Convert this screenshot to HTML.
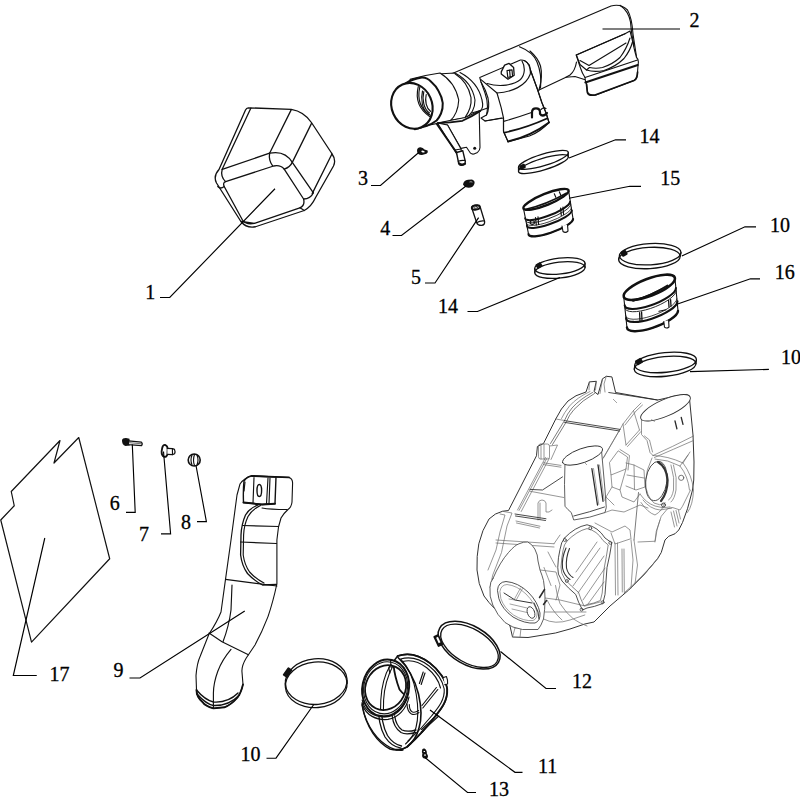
<!DOCTYPE html>
<html><head><meta charset="utf-8"><style>
html,body{margin:0;padding:0;background:#fff;width:800px;height:800px;overflow:hidden}
svg{display:block}
.t{font-family:"Liberation Serif",serif;font-size:20px;fill:#000;stroke:#000;stroke-width:0.3}
.ld{fill:none;stroke:#000;stroke-width:1.15}
.k{fill:none;stroke:#111;stroke-width:1.15;stroke-linejoin:round;stroke-linecap:round}
.kw{fill:#fff;stroke:#111;stroke-width:1.1;stroke-linejoin:round;stroke-linecap:round}
.g{fill:none;stroke:#777;stroke-width:0.7;stroke-linejoin:round;stroke-linecap:round}
.gw{fill:#fff;stroke:#666;stroke-width:0.8;stroke-linejoin:round}
#p1 .k,#p1 .kw{stroke-width:1.3}
</style></head><body>
<svg width="800" height="800" viewBox="0 0 800 800">
<rect width="800" height="800" fill="#fff"/>
<g id="parts">
<g id="p1" style="stroke-width:1.25">
<path class="kw" d="M248.2,107.8 L291.3,109.4 Q304,111.5 311.6,122.75 L331.5,153 Q336.5,160 333.5,166 L315.6,197.5 Q311.5,206.5 304.25,210.5 L255.5,226.75 Q246.5,228.5 240.9,221.5 L216.5,183 Q213,176 219,169.5 L245.5,110 Q246.5,107.8 248.2,107.8 Z"/>
<path class="k" d="M250.8,108.2 L222.2,169.3"/>
<path class="k" d="M291.3,109.6 L269.6,153.2"/>
<path class="k" d="M311.4,123.6 L292.3,162.4"/>
<path class="k" d="M331.8,154.2 L312.2,193.6"/>
<path class="k" d="M222.2,169.3 L269.6,153.2 Q285,150 292.3,162.4 L313.4,192.8"/>
<path class="k" d="M269.6,153.2 Q268.5,160.5 272.5,165.6"/>
<path class="k" d="M292.3,162.4 Q290,167.2 284.2,169.2"/>
<path class="k" d="M225.6,181.6 L273.6,166 Q280.5,164.6 284.2,169.2 L303.6,199 Q305.2,205.8 299.8,207.8 L254.5,223.3 Q246.5,225 242.6,220.3 L224.2,186.5 Q222.6,182.6 225.6,181.6 Z"/>
<path class="k" d="M222.2,169.3 Q220.2,176.5 225.6,181.6"/>
<path class="k" d="M217.8,186.5 Q220.5,189.5 224.2,186.5"/>
<path class="k" d="M313.4,192.8 Q310.5,199 303.6,199"/>
<path class="k" d="M299.8,207.8 Q302,209 304.25,210.5"/>
<path class="k" d="M241.2,221.5 Q248,222.6 254.5,223.3"/>
</g>
<g id="p2">
<!-- main pipe body -->
<path class="kw" d="M450,74.5 L611,6 Q621,3.5 627.5,10 Q632,18 633,34 L637,60 L586,80 L575,76.5 L566,77.3 L539,90 L480.5,110.5 L440,121.75 Z"/>
<!-- ring on pipe left of right outlet -->
<path class="k" d="M530,51 Q538,58 540.5,66 Q543,76 539,90"/>
<path class="k" d="M519.5,46.75 Q533,52 537,62 Q542,74 540.5,88"/>
<!-- right outlet -->
<path class="kw" d="M576.3,55 L625,33.8 L630,31 Q632.5,40 634.5,50 L636.5,57.5 Q638.5,59 638.4,62 L638,66 L637.2,76 Q636.8,79.5 634,80.5 L596,95 Q588.5,96 587.6,92.5 L586.5,84 L585.5,81.5 L585,77.5 Q582,73 580.5,68 Q578,61 576.3,55 Z"/>
<path class="k" d="M576.3,55 L625,33.8"/>
<path class="k" d="M580,60.5 L589,65.5 L626,43"/>
<path class="k" d="M576.3,55 L580,64.5 L586.5,70 L589.5,67.5"/>
<path class="k" d="M589.5,67.5 Q596,69 602.5,67.5 Q613,64 620,57.5 Q626.5,49 630,38"/>
<path class="k" d="M586.5,70 Q594,72.5 604,70.5 Q616,66.5 624,58.5 Q630,51 632.5,42"/>
<path class="k" d="M620,5.3 Q628.5,11 630.5,22 L631.5,32 L634,46"/>
<path class="k" d="M585,77.5 L637.5,60"/>
<path class="k" style="stroke-width:1.9" d="M585.3,82.5 L637.8,65"/>
<path class="k" style="stroke-width:1.7" d="M586.5,84 L587.3,92 Q588,96 595,95 L634,80.5 Q637.2,79 637.6,72"/>
<path class="k" d="M576.5,62 Q575,71 570,75 L566,77.3"/>
<!-- middle outlet -->
<path class="kw" d="M479.75,77.5 L520.4,60 Q525,59.5 529.4,65 L530.5,70 L537.25,88.75 L541.75,102.25 L546.25,113.5 L549,122.5 Q540,132 529.4,136 L508,141.6 L503.5,131.5 L503.5,118 L485,121 L481,118 L486.5,115 Q489,104 485,93 L481,82 Z"/>
<path class="k" d="M481,79.6 L497,93 C512,92 526,86 530.3,74 C531,68 528,62 524.5,60.5"/>
<path class="k" d="M487,83.5 C500,87.5 514,85 520.5,79.5 C525,75 525.5,67 522,61"/>
<path class="k" d="M497,93 L501.25,107.9 L503.5,118 L503.5,131.5 L508,141.6"/>
<path class="k" d="M530.3,70 L537.25,88.75 L541.75,102.25 L546.25,113.5 L549,122.5"/>
<path class="k" d="M503.5,121.4 Q519,117 531.5,112.5 M541,109.5 Q543.5,107 546,108.5"/>
<path class="k" style="stroke-width:1.9" d="M504.6,132.6 Q526,128 547,118.5"/>
<path class="k" style="stroke-width:1.9" d="M508,141.6 Q531,136 549,122.5"/>
<path class="k" style="stroke-width:2.2" d="M532,117.5 L532,112.5 Q532,108.3 536,108.3 Q540,108.3 540,112 L540,113.8 Q542,116.8 545.5,114.5 L547,113"/>
<path class="kw" style="stroke-width:1.3" d="M501.25,71.9 L504.6,65.1 L509.1,63.4 L513.6,67.4 L514.2,75.25 L508,79.2 L501.25,74.1 Z"/>
<path class="k" style="stroke-width:1.2" d="M507,70.5 L512,69.8 L512.6,76.5 L507.8,77.4 Z M509.6,70.2 L510.2,77"/>
<!-- left side of middle outlet -->
<path class="k" d="M481,82 Q486,90 488,98 Q490,108 486.5,115"/>
<path class="k" d="M485,121 L501.5,118"/>
<!-- collar rings -->
<path class="kw" d="M455,73 Q472,82 475,100 Q475,113 465,118 L440,121.75 L437,74 Z"/>
<path class="k" d="M460,72.5 Q478,82 482,100 Q484,108 480,111"/>
<path class="k" d="M455,73.75 Q468,82 471,97.5 Q472,108 465,117.5"/>
<path class="kw" d="M410,79.4 Q425,75 440,73 Q455,82 458.75,100 Q458,114 450,121 L426,125.6 Z"/>
<path class="kw" style="stroke-width:2" d="M406,83 Q412,79.5 421.75,77.6 Q427,77.3 431.4,82 Q436,86 438.4,90.75 Q442,97 442.75,103 Q443,109 441,113.5 Q439,118 436.6,120.5 Q432,124 427,125.75 L414.75,129.25 Z"/>
<ellipse class="kw" style="stroke-width:2.1" cx="411.9" cy="105.8" rx="23.4" ry="20.2" transform="rotate(66 411.9 105.8)"/>
<path class="k" d="M418.3,86.5 C416,96 417,108 429.6,116.5"/>
<path class="k" d="M419.8,87 C417.6,97 418.6,108 430.3,115.3"/>
<path class="k" d="M422.5,91 C420.6,99 422,110 428.5,114.2"/>
<path class="k" d="M423.8,91.6 C422,99 423.6,109 429.5,113"/>
<path class="k" d="M426.2,94.5 C424.8,101 426.2,108 430.5,111.3"/>
<!-- bracket -->
<path class="kw" d="M437.5,123 L447.5,125 L461,148.4 L466.5,147.3 L470.5,153.2 Q472,154.5 474,154 L477.5,152.4 Q480,150.5 480,147.5 L479.2,111 L465,117.5 Z"/>
<path class="kw" d="M437.5,123 L455,151 L458,156 L462,155 L461,149 L447.5,125 Z"/>
<path class="k" d="M455,150 L461,149"/>
<path class="kw" style="stroke-width:1.4" d="M456.5,152.5 L462.8,150.8 L465.3,161.5 Q465.5,165 461.5,165.3 Q458.8,165.5 458.5,162.5 Z"/>
<path class="k" d="M458.3,161.2 Q461.5,160 465,160.5"/>
<circle cx="474.7" cy="148.3" r="1.5" fill="#111"/>
<path class="k" style="stroke-width:1.9" d="M436.8,124 L456.6,152.6"/>
<path class="k" style="stroke-width:1.8" d="M437.5,123.2 Q450,122.5 462.5,120.8 Q472,116.5 480.3,111"/>
<path class="k" style="stroke-width:2.2" d="M459,163.3 Q461.5,165.6 465,163.8"/>
</g>
<g id="p3">
<path fill="#111" d="M417,151 Q417,147.3 420.5,147.3 Q423,147.5 424.5,149.5 L427.6,150.6 Q428.6,152.5 426.5,153.8 L422,155 Q417.5,155.2 417,151 Z"/>
<ellipse cx="423" cy="151.6" rx="1.7" ry="0.9" fill="#fff" transform="rotate(15 423 151.6)"/>
</g>
<g id="p4">
<path fill="#111" d="M463,184.5 Q463.5,180.5 468,179.8 L472,179.4 Q475,180.5 474.6,183 Q474,186.5 470.5,187.6 Q465.5,188.5 463,184.5 Z"/>
<path d="M469.5,182 Q471,181.3 472.4,182.2" stroke="#fff" stroke-width="0.6" fill="none"/>
</g>
<g id="p5">
<path class="kw" style="stroke-width:1.3" d="M471.6,207.5 Q472.5,205 476,205.2 Q479.8,205.4 480.4,207.8 L484.6,221.5 Q485,225 481.5,225.4 Q477.8,225.5 476.8,223 Z"/>
<ellipse class="k" style="stroke-width:1.8" cx="475.8" cy="207.5" rx="4.1" ry="2.1" transform="rotate(-10 475.8 207.5)"/>
<ellipse fill="#fff" stroke="#111" stroke-width="0.8" cx="475.8" cy="207.4" rx="2" ry="0.9" transform="rotate(-10 475.8 207.4)"/>
<path class="k" d="M477,222.5 Q480,220.5 484.4,221"/>
</g>
<g id="p17">
<path class="k" style="stroke-width:1.2" d="M78.75,437.5 L54,463 L60,440.5 L11.25,491.5 L14.25,505.75 L0.75,520 L31.5,642.2 L109.7,558.75 Z"/>
</g>
<g id="p6">
<path fill="#111" d="M122,440 Q122.5,437.8 126,437.9 L129.5,438.8 L129.8,445.5 L125.5,446 Q121.8,445 122,440 Z"/>
<path class="kw" style="stroke-width:1.2" d="M128.5,440.9 L141.4,442.1 Q143,443.6 141.6,445.6 L128.5,444.6 Z"/>
<path class="k" style="stroke-width:0.6" d="M129.5,442.7 L141.5,443.8"/>
</g>
<g id="p7">
<path class="kw" style="stroke-width:1.8" d="M162.2,448 Q163,444.6 165.3,445 Q167.7,446 167.6,449 L167.4,454.5 Q166.5,457.5 164,456.8 Q161.5,455.5 161.6,451.5 Z"/>
<path class="kw" style="stroke-width:1.2" d="M167.4,448.3 L172.5,448.6 L174.5,449.4 Q175.5,451.5 174.6,453.8 L172.5,454.6 L167.4,454.4"/>
<path class="k" d="M172.4,448.7 L172.5,454.6"/>
</g>
<g id="p8">
<ellipse class="kw" style="stroke-width:1.6" cx="194.2" cy="460" rx="6" ry="6" />
<path class="k" d="M192,455 Q190,460 192,465 M194.5,454.5 Q192.5,460 194.5,465.5 M197,455 Q199,460 197,465"/>
</g>
<g id="p9">
<path class="kw" d="M240,484 Q244,478 252,475.6 L289,477.5 Q292.5,478.5 292.6,483 L292,502 Q291.5,507 288,509.5 Q283,514 281,518 L278.5,527 L276.9,540 L276.9,583.75 Q273,602 268,616.6 Q262,632 255,645 L246.25,658 Q242,665 241.9,671 L243,684.4 Q241,693 237.5,697.5 Q231,705 224.4,707.3 L213.4,708.4 Q205,706 202.5,702 Q196.5,697 196.5,690 L196,675.6 Q197,663 200.3,656 L209,634 Q217,622 221,612 L225.5,579.4 L231,540 L237,495 Z"/>

<path class="kw" style="stroke-width:1.4" d="M244,481 Q247,476.5 252,476 L276,477 L275,503.5 L262,504.5 L243.5,502.5 Q243,490 244,481 Z"/>
<path class="k" style="stroke-width:2" d="M243.5,502.5 L262,504.5 L275,503.8"/>
<path class="k" style="stroke-width:1.8" d="M252,476 L289,477.4"/>
<path class="k" d="M254,477.5 L253,503 M268,478 L266.5,503.5 M270,478 L269,503.5"/>
<ellipse cx="259.3" cy="490.5" rx="2.3" ry="6" fill="none" stroke="#111" stroke-width="1.4"/>
<path class="k" d="M262,508 Q270,509.5 287,509.5"/>


<path class="k" d="M245,482 L244,491"/>
<path class="k" style="stroke-width:1.3" d="M258,505 Q249,508.5 245.5,515 Q241.5,524 241,535 L240.6,555 Q242,566 247.5,573.5 Q254.5,581 262.5,585 L276.5,584.5"/>
<path class="k" d="M260.5,505.5 Q251.5,510 248,516.5 Q244,525 243.6,535 L243.2,555 Q244.6,565 249.6,572 Q256.5,579.5 264,583"/>
<path class="k" d="M242.5,525.5 L278.5,526.5 M240.5,542 L276.5,543.5"/>


<path class="k" d="M225.5,579.4 L276.9,586"/>
<path class="k" d="M232,585 L231,610 Q229,626 223,641.7"/>
<path class="k" d="M209,633 L222,641.7 L248.4,654.8"/>
<path class="k" d="M231,649.4 Q222,660 217.8,671.25 Q213.5,683 213.4,693 L213.4,708"/>
<path class="k" style="stroke-width:1.4" d="M196.5,690 Q205,700 213.4,702 Q228,703 238,693 M197,694 Q206,704 213.4,705.5 Q229,706 239.5,695"/>
<path class="k" style="stroke-width:1.9" d="M196.5,690 Q196.5,697 202.5,702 Q205,706 213.4,708.4 L224.4,707.3 Q231,705 237.5,697.5 Q241,693 243,684.4"/>
</g>
<g id="p11">
<path class="kw" style="stroke-width:1.4" d="M397.6,656 C420,648 445,672 447.1,689 C448,702 440,711 433,719 C428,726 420,735 407,747 C402,750 396,751 390,749 C378,743 366,728 362,705 L380,680 Z"/>
<path class="k" style="stroke-width:1.8" d="M397.6,656 C420,648 445,672 447.2,689 C448,701 441,709 433,719 C427,727 419,736 407.5,746.5"/>
<path class="k" style="stroke-width:1.1" d="M400.5,659 C421,653 441,673 444.2,689 C445,700 438,708 431.5,716 C426,723 418,732 408,741"/>
<path class="k" d="M402.5,661.5 C420,657 437,674 440.5,688"/>
<path class="k" style="stroke-width:1.6" d="M398,657.5 C408,667 415,680 418.5,694 C421.5,707 421.5,720 419,728 C417,736 412,743 407,747 C403,749.5 399,749.8 396,749.6"/>
<path class="k" style="stroke-width:1.1" d="M401,659.5 C410,669 414,680 416.2,694 C418.5,708 418,720 416,727.5 C414,735 410,740 405.5,744"/>
<path class="k" style="stroke-width:1.3" d="M362,703 C364,720 373,736 386,745 C392,749 398,751 403,750"/>
<path class="k" style="stroke-width:1.3" d="M390,673 C384,680 380,692 378.6,704 C378,716 380,728 385,737 C389,743 394,747 401,748.2"/>
<path class="k" style="stroke-width:1.3" d="M392.5,673.5 C387,681 383,692 381.4,704 C381,716 383,727 387.5,735.5 C391,741 395,744.5 401.5,746"/>
<path class="k" style="stroke-width:1.3" d="M392.3,716.5 C393,723 396,729 401,732.5 C405,734.5 410,734 415.5,732.5"/>
<path class="k" style="stroke-width:1.3" d="M394.7,716 C395.5,722 398,727 402,730 C406,731.8 410.5,731.5 416,730"/>
<path class="k" style="stroke-width:1.6" d="M393.5,674 C395,680 397,686 399.5,689.5 C401,691.5 403,693.5 404.5,694.5"/>
<path class="k" style="stroke-width:1.1" d="M407,704 C407.2,709 408.2,712.2 411.5,714 C414,715 417,714 419,712.5"/>
<path class="k" style="stroke-width:1.1" d="M409.3,704.5 C409.3,708.5 410.3,711 412.5,712 C414.5,712.6 416.5,712 418.6,710.5"/>
<path class="k" d="M419.4,683.5 L423.2,672 M421.2,684.5 L425,673"/>
<path class="k" d="M422,705.5 L436.4,687.5 M422.8,708 L437.8,689.5"/>
<path class="k" d="M421.6,729.5 L437.5,714.5 M421.2,732 L438.8,716"/>
<path class="kw" d="M443.5,677.6 L446.4,676.6 Q448,680 447.6,684 L444.8,684.6"/>
<ellipse class="kw" style="stroke-width:2" cx="385.64" cy="687.96" rx="28.54" ry="23.24" transform="rotate(-77.48 385.64 687.96)"/>
<ellipse class="k" style="stroke-width:1.1" cx="385.6" cy="687.8" rx="26.2" ry="21.8" transform="rotate(-77.48 385.6 687.8)"/>
<clipPath id="c11"><ellipse cx="385.6" cy="687.6" rx="22.98" ry="19.88" transform="rotate(115.85 385.6 687.6)"/></clipPath>
<g clip-path="url(#c11)">
<path class="k" style="stroke-width:1.1" d="M391,664 C386,672 381.5,686 380.8,700 L380.5,712"/>
<path class="k" style="stroke-width:1.1" d="M393.6,664.5 C389,673 384.3,687 383.6,700 L383.4,712"/>
<path class="k" style="stroke-width:1.8" d="M393.5,664 C394,672 396,680 399.5,689.5 C401,691.5 403,693.5 405,695"/>
<path class="k" style="stroke-width:1.2" d="M398,657.5 C404,663 409,670 412,678"/>
</g>
<ellipse class="k" style="stroke-width:1.8" cx="385.6" cy="687.6" rx="22.98" ry="19.88" transform="rotate(115.85 385.6 687.6)"/>
<path class="k" d="M390,673 C388,668 389.5,665.5 391,664.5"/>
<path class="k" style="stroke-width:1.2" d="M362.2,700 C364,711 374,718 388,716.7 C398,715 406,706 408.3,692"/>
<path class="k" style="stroke-width:1.2" d="M362.5,705 C366,715 376,720.5 388,719.4 C398,717.8 406.5,709 409,697"/>
<path class="k" d="M390.5,660 L391.2,667.5"/>
</g>
<g id="p13">
<path fill="#111" d="M422.2,749.5 Q423,748.2 424.5,748.5 Q426,749.2 426.6,751 Q427,752.5 426.8,753.5 Q428.2,755 428,757 Q427.5,758.6 425.5,758.7 Q423,758.6 422.3,757 Q421.8,755 422.4,753.5 Q421.6,751.5 422.2,749.5 Z"/>
<rect x="423.6" y="751" width="1.4" height="1" fill="#fff"/>
<rect x="424.3" y="754.3" width="1.4" height="1.6" fill="#fff"/>
</g>
<g id="housing">
<path fill="#fff" stroke="#333" stroke-width="1" stroke-linejoin="round" d="M586,392 L589.4,381.9 L596.3,381.3 L594,391.5 L598,394.5 L602.5,378.8 L606.3,376.3 L611.9,376.9 L615.6,392.5 L657.5,400 L660,399.5 L675,396 L686.25,394.4 Q690,395 689.4,397.5 L693,435 L694,462 L693.75,480 L692.5,490 L687.5,508.75 L682.5,522.5 L678.75,530 L675,533.75 L668.75,536.25 L665,540 L661.25,552.5 L657.5,558.75 L643.75,575 L628.75,590 L610,606 L594,622 L584.8,624 L570,629 L555.5,633 L528,637.5 L512.5,637 L510,626 Q502,619 496,610 Q488,602 484,596 Q478,584 477,570 Q476.5,556 478.8,543.8 Q482,530 489,519 Q495,513 502.5,511.25 L508.5,510.5 L536.5,455.75 L537.4,446.5 L543.5,443.5 L555.75,419 Q561,408 568,401 Q575,395 586,392 Z"/>
<g fill="none" stroke="#6a6a6a" stroke-width="0.7" stroke-linejoin="round" stroke-linecap="round">







<path stroke="#444" d="M592.5,392.5 Q580,399 572,408 Q567,414 564.5,420.5 L550.5,443.5"/>
<path stroke="#444" d="M594.5,393.5 Q582,400.5 574,409.5 Q569,415 566.5,421.5 L552.5,444.5"/>
<path d="M590,391.5 Q577,397.5 569.5,406 Q564,413 561.5,418.5"/>
<path d="M547,458 L519,510.5 M549.2,458.5 L521.2,511.5 M545.5,457.5 L517.5,510"/>
<path d="M538.5,446 Q538.5,444 540.5,444 L547.5,444 Q549.5,444 549.5,446.5 L549.5,457 Q549.5,459 547.5,459 L540.5,459 Q538.5,459 538.5,457 Z"/>
<path d="M549.5,446 L557.5,445 L551,459.5 M541,444 L541,459 M544,444.3 L544,459"/>
<path d="M555.75,419 L564.5,420.5"/>
<path d="M543.5,462.75 L561,465.4 M543.5,464.6 L561,467.2"/>
<path d="M530,491.25 L563.75,497.5"/>
<path d="M538,520 L538,503 Q539,500 542,500 Q545,500 546,503 L546,512 L549,512 L552,510 M540,503 L540,519"/>
<path d="M516,521 L540,526.25 M516.5,523 L539.5,528"/>
<path d="M589.4,381.9 L589,390 M596.3,381.3 L595.5,390 M602.5,378.8 L600,393.5 M606.3,376.3 L604,384 L605,392"/>













<path d="M620,429.4 L603.75,457.5 M619,431 L602,460"/>
<path d="M620,429.4 L623,424 L633.5,410.5 L641,403 M623,424 L626,445 M633.5,410.5 L639.5,430 M626,445 L639.5,430 M627.5,446.5 L641,431.5 M625,425 L636,411 L642.5,405"/>
<path d="M641.5,420 L641.5,434.5 L647,440.5 L650,452.5 L653,455.5 M644.5,436 L649.5,440 L652.5,452"/>
<path d="M653,455.5 Q672,447 693.5,436 M654.5,457.5 Q673,449.5 693.5,440.5"/>
<path d="M618.5,451 L627.5,457 L626,469 L611,475 L609.5,463 Z M620,449.5 L629.5,455.5 L628,470 M611,475 L612,487 L620,490 L626,469"/>
<path d="M626,463 L634,465 L644,470 L645,487 L636,490 L626,486 M634,465 L634.5,489.5 M627,475 L644,478"/>
<path d="M620,490 L622,497 L634,502 L640,494 M612,487 L606,497 L605,510 M606,497 L614,505"/>
<path d="M653,455.5 Q668,456 683,463 Q692,475 693.5,490 Q693,505 687.5,512.5 M655,459 Q668,459.5 680,466 Q688,476 689.5,490"/>
<path d="M671,465 Q675,478 673.5,490 Q672,498 668.5,500 M673.5,465 Q677.5,478 676,490 Q674.5,499 671,502"/>
<path d="M652,458 Q646,470 645.5,482 Q646,496 654,503 Q660,506 664,504"/>
<path d="M640,494 Q646,503 655,506 Q663,509 670,507 M643,500 Q650,509 660,510 L672,508"/>
<path d="M683,463 L690,452 M680,466 L688,455"/>
<path d="M638.5,492.5 L634,540" stroke="#444"/>
<path d="M690.5,490 L682.5,506.25 L680,510 L672.5,507.5 L667.5,508.75 L661.25,516.25 L656.25,531.25 L655,541.25 L638,542"/>
<path d="M671,512 L674.5,527 M673.5,511 L677,526 M676,510.5 L679,523 M678.5,510.5 L680.5,519"/>
<path d="M634,540 L637.5,565 L635,583.75 M631,540 L633,560 L631,588"/>
<path d="M615,543 L615.5,595 M617.5,543 L618,595 M622,549 L622.3,592 M624,549 L624.3,592"/>
<path d="M611,533 L615,544 L630,539 M595,523 L612,532 L625,526 L630,530 L631,539"/>
<path d="M641,502.5 Q647.5,512.5 655,515 Q662.5,511 665,502.5"/>
<path d="M659,557 Q650,568 641,577 Q632,586 624,593 M655,562 Q645,574 636,583"/>
<path d="M655,542 L657,530 L660,520"/>

<path d="M605,512.5 L612,510 L624,512 L640,505 L648,508"/>







<path d="M496,540 L554,543.75 M496,543 L554,547 M554,543.75 L560,535"/>
<path d="M503,511.4 L512,513 L507,526 L501.5,552.5 L492.75,575 L490,587.5"/>
<path d="M500,514 L505,515 L500,532 L496,550 L488,570"/>
<path d="M540,570 L556,572 L560,585 L556,600 M545,598 L560,600 L585,606 L600,602"/>
<path d="M543.5,619 Q555,625 570,620 L584.8,615 M545,612 L560,612 L586,612"/>
<path d="M512.5,637 L515,628 M520,637.5 L521,628 M515,628 L527,628"/>






<path d="M573,586 L600,548 M578,593 L604,556 M583,600 L605,568 M576,572 L597,542 M588,604 L604,582"/>
<path d="M555.5,585.5 Q557,596 560,603.5 Q566,613 573.5,619 Q580,623.5 587,626 M544,567.5 Q548,578 551,585.5"/>
<path d="M548,552 Q552,560 556,567 M547,600 Q553,612 562,620"/>


</g>
<g fill="none" stroke="#2a2a2a" stroke-width="0.85" stroke-linejoin="round" stroke-linecap="round">
<path d="M608.75,392.5 L657.5,400"/>
<path d="M564.4,420.6 L620,429.4 M564.6,422.4 L619.6,431"/>
<path d="M530,489.4 L542.5,490 L562.5,476.9"/>
<path d="M515,514 L546,518.75 M515.5,516 L545.5,520.5"/>
<path d="M675,421 L676.9,428.75 M681.25,417.5 L683,424.4" stroke-width="1.3"/>


<ellipse cx="656.3" cy="481" rx="10.6" ry="19.8" transform="rotate(8 656.3 481)" fill="none" stroke="#444" stroke-width="0.9"/>
<path d="M658,462 Q666.5,467 667.6,480 Q667.5,493 661,501" fill="none" stroke="#333" stroke-width="2.2"/>
<circle cx="681.2" cy="477.8" r="2.6" fill="none" stroke="#555" stroke-width="0.8"/>
<circle cx="663.5" cy="505" r="2" fill="none" stroke="#444" stroke-width="0.9"/>
<path d="M564.5,538 Q575,527 587,524.75 Q598,527 605,538 L611.75,542.75 Q610,555 607,567.5 L605,594.5 L602.75,603.5 Q594,607 587,608 L582.5,610 Q578,602 575.75,594.5 Q568,588 562,581 Q557,574 557.75,567.5 Q558,557 560,549.5 Q561,542 564.5,538 Z" stroke="#3a3a3a" stroke-width="0.9"/>
<path d="M567,541 Q577,531 587,528.6 Q597,530.6 603,540.5 L608.2,545 Q606.6,556 604.2,568 L602.2,593 L600.4,600.5 Q594,603.5 587,604.5 L584,606 Q580.5,599 578.6,592.5 Q571,586 565,579.5 Q560.6,573 561,567 Q561.6,557 563,550.5 Q564,544 567,541 Z" stroke="#555" stroke-width="0.7"/>
<g stroke="#444" stroke-width="0.8"><circle cx="590.3" cy="528.2" r="1.5"/><circle cx="610.3" cy="542.8" r="1.5"/><circle cx="602.6" cy="602.3" r="1.5"/><circle cx="581.6" cy="609.6" r="1.5"/><circle cx="566.8" cy="581" r="1.5"/><circle cx="564.8" cy="540" r="1.5"/></g>
<path d="M566,548 Q561.5,558 562.5,568 Q564,575.5 570,579.5 M569.5,548.5 Q565.5,558 566.5,568 Q568,574.5 573,577.5" stroke="#333" stroke-width="1.1"/>
<path d="M492.8,578.8 Q500,562 508.5,552.5 Q515,545 519,543.8 Q524,541.5 527.8,542 Q532,544 534.8,549 Q538,555 538,561 L540,570 Q542,575 543.5,580.5 Q545,590 545,598 Q545,610 543.5,619 Q541,626 538,629.5 L522.5,629.5 Q512,628 505,622.5 Q497,615 492.8,605 Q489,596 490,587.5 Q490,582 492.8,578.8 Z" fill="#fff" stroke="#444"/>



<path d="M497.5,590 Q498,582 506,581.5 Q518,582.5 528,592 Q538,602 540,613 Q540.5,621 535,623 Q525,624 513,617 Q502,609 499,599 Z" stroke="#333"/>
<path d="M500,591 Q501,585 507,584.5 Q517,585.5 526,594 Q535,603 537,612 Q537.5,619 533,620.5 Q524,621.5 513.5,615 Q504,608 501,599 Z" stroke="#666" stroke-width="0.6"/>
<path d="M504,593 L515,600 L532,603" stroke="#333" stroke-width="1"/>
<path d="M514.5,599 L520.5,588 M516.5,599.5 L522.5,588.5" stroke="#666" stroke-width="0.6"/>
<path d="M510,604 L527,608 M512,609 L527,612.5 M509,599 L515,600" stroke="#666" stroke-width="0.6"/>
<ellipse cx="531" cy="612.5" rx="3.6" ry="6" transform="rotate(-20 531 612.5)" stroke="#444" stroke-width="0.9"/>
<path d="M534,603 L538,612 L539,619" stroke="#444" stroke-width="1.1"/>
<path d="M539.5,597.5 L544.5,589.5 M543.5,604.5 L546.5,600.5" stroke-width="1.5"/>
<path d="M565,462 Q564,485 565,506.25 Q568,510 571.25,512.5 L573.75,520 Q590,518 605,512.5 L606.25,507.5 L605,490 L601.25,447.5" fill="#fff" stroke="#444"/>
<path d="M573.75,516 Q590,512 604.5,507"/>
<path d="M591.9,468.75 L597.5,505 M598,465 L603,501.25" stroke-width="1.3"/>
<path d="M593.5,468.5 L598.8,504.5 M599.5,465 L604.2,500.5" stroke="#666" stroke-width="0.6"/>
</g>
<ellipse class="kw" style="stroke:#333;stroke-width:0.9" cx="582.5" cy="455.6" rx="21.11" ry="7.04" transform="rotate(160.47 582.5 455.6)"/>
<ellipse class="kw" style="stroke:#333;stroke-width:0.9" cx="665.5" cy="407.8" rx="26.93" ry="8.34" transform="rotate(-23.66 665.5 407.8)"/>
<path d="M585,463 L587,465 M613,399 L617,403 M651,419.5 L655,421.5" stroke="#666" stroke-width="0.6" fill="none"/>
</g>
<g id="clamps">
<ellipse class="k" style="stroke-width:1.3" cx="543.4" cy="164.1" rx="26" ry="5.8" transform="rotate(-17 543.4 164.1)"/>
<ellipse class="k" style="stroke-width:1.3" cx="543.4" cy="159.9" rx="26" ry="5.8" transform="rotate(-17 543.4 159.9)"/>
<path class="k" d="M518.48,167.11 L518.48,171.31 M568.32,152.69 L568.32,156.89"/>
<rect x="519.5" y="164.5" width="6" height="4.5" rx="1" fill="#111" transform="rotate(-25 522.5 166.75)"/>
<ellipse class="k" style="stroke-width:1.3" cx="559.9" cy="270" rx="25.3" ry="8" transform="rotate(-6.5 559.9 270)"/>
<ellipse class="k" style="stroke-width:1.3" cx="559.9" cy="266" rx="25.3" ry="8" transform="rotate(-6.5 559.9 266)"/>
<path class="k" d="M534.75,268.58 L534.75,272.58 M585.05,263.42 L585.05,267.42"/>
<rect x="536" y="263" width="6" height="5" rx="1" fill="#111" transform="rotate(-30 539 265.5)"/>
<ellipse class="k" style="stroke-width:1.3" cx="649.4" cy="258" rx="30.8" ry="10.6" transform="rotate(-3.5 649.4 258)"/>
<ellipse class="k" style="stroke-width:1.3" cx="650.2" cy="254.2" rx="30.8" ry="10.6" transform="rotate(-3.5 650.2 254.2)"/>
<path class="k" d="M619.45,255.86 L618.65,259.66 M680.95,252.54 L680.15,256.34"/>
<rect x="621" y="250.5" width="6" height="5.5" rx="1" fill="#111" transform="rotate(-30 624 253.25)"/>
<ellipse class="k" style="stroke-width:1.3" cx="665.1" cy="366.4" rx="31" ry="9.9" transform="rotate(-5.7 665.1 366.4)"/>
<ellipse class="k" style="stroke-width:1.3" cx="665.6" cy="362.4" rx="31" ry="9.9" transform="rotate(-5.7 665.6 362.4)"/>
<path class="k" d="M634.74,365.16 L634.24,369.16 M696.46,359.64 L695.96,363.64"/>
<rect x="635.5" y="358.8" width="7" height="5.5" rx="1" fill="#111" transform="rotate(-30 639 361.55)"/>
<ellipse class="k" style="stroke-width:1.5" cx="469.1" cy="645.2" rx="34" ry="19.3" transform="rotate(30.2 469.1 645.2)"/>
<ellipse class="k" style="stroke-width:1.3" cx="469.5" cy="645.8" rx="31.8" ry="17" transform="rotate(30.2 469.5 645.8)"/>
<rect x="435.3" y="634.5" width="6" height="12" rx="1" fill="#111" transform="rotate(-25 438.3 640.5)"/>
<rect x="437.3" y="637" width="2" height="6" fill="#fff" transform="rotate(-25 438.3 640)"/>
<ellipse class="k" style="stroke-width:1.3" cx="316.2" cy="684.8" rx="30.9" ry="22.8" transform="rotate(-5 316.2 684.8)"/>
<ellipse class="k" style="stroke-width:1.3" cx="316.2" cy="681.6" rx="30.9" ry="22.8" transform="rotate(-5 316.2 681.6)"/>
<path class="k" d="M285.35,682.82 L285.35,686.02 M347.05,680.38 L347.05,683.58"/>
<rect x="284.8" y="667.5" width="5.5" height="10" rx="1" fill="#111" transform="rotate(35 287.55 672.5)"/>
</g>
<g id="p15">
<path class="kw" d="M523.37,207.98 L528.53,234.15 A23.6,5.8 -20 0 0 573.07,219.05 L568.63,190.82 A24.3,5.6 -22 0 1 523.37,207.98 Z"/>
<path class="k" style="stroke-width:2.2" d="M528.53,234.15 A23.6,5.8 -20 0 0 573.07,219.05"/>
<path class="k" style="stroke-width:2" d="M525.13,218.15 A24,5.7 -21.2 0 0 570.07,201.85"/>
<path class="k" style="stroke-width:0.9" d="M525.7,220.88 A24,5.7 -21 0 0 570.7,204.72"/>
<path class="k" style="stroke-width:2" d="M526.95,225.84 A23.8,5.7 -20 0 0 571.85,210.56"/>
<path class="k" style="stroke-width:0.8" d="M526.72,223.63 A23.8,5.7 -20.5 0 0 571.48,207.97"/>
<path class="k" style="stroke-width:1.2" d="M535.5,217.5 L536.3,225 M538,216.8 L538.6,224.4 M560.6,208 L561.3,215.5 M563,207 L563.6,214.5"/>
<ellipse cx="532.3" cy="222.5" rx="2.2" ry="1.8" class="k"/>
<ellipse class="kw" style="stroke-width:2.4" cx="546" cy="199.4" rx="24.3" ry="5.6" transform="rotate(-22 546 199.4)"/>
<path class="k" style="stroke-width:1.6" d="M526,209.3 Q546,204.8 566.3,193.3"/>
<path class="k" d="M554.3,193.8 L555.8,197.3 M559.3,191.8 L560.8,195.3"/>
<path class="kw" d="M562,226 L563,231.5 Q565.5,233.5 568,231 L567.5,224.5"/>
</g>
<g id="p16">
<path class="kw" d="M623.63,296.05 L626.97,327.49 A27,8.4 -20 0 0 678.03,310.91 L674.97,278.55 A27.3,8.6 -21 0 1 623.63,296.05 Z"/>
<path class="k" style="stroke-width:2.4" d="M626.97,327.49 A27,8.4 -20 0 0 678.03,310.91"/>
<path class="k" style="stroke-width:2" d="M624.65,305.14 A27.2,8.5 -20.5 0 0 675.95,288.06"/>
<path class="k" style="stroke-width:0.9" d="M624.95,308.04 A27.2,8.5 -20.5 0 0 676.25,290.96"/>
<path class="k" style="stroke-width:2.2" d="M626.17,318.13 A27.1,8.4 -20 0 0 677.43,301.47"/>
<path class="k" style="stroke-width:0.8" d="M625.57,315.53 A27.1,8.4 -20 0 0 676.83,298.87"/>
<path class="k" style="stroke-width:1.3" d="M639.6,312.6 L640,321.4 M641.6,312 L642,320.8 M668.6,300.5 L669,307 M670.6,299.6 L671,306"/>
<path class="k" d="M659,311.3 L666,309.8"/>
<ellipse class="kw" style="stroke-width:2.6" cx="649.3" cy="287.3" rx="27.3" ry="8.6" transform="rotate(-21 649.3 287.3)"/>
<path class="k" style="stroke-width:2" d="M633,300.8 Q652,295.5 667.5,285.5"/>
<path class="k" style="stroke-width:0.9" d="M636.6,299.8 Q654,293 662,288.5"/>
<path class="kw" d="M663.8,321.5 L664.5,327.2 Q666.6,329 669,327 L668.6,320.3"/>
</g>
</g>
<g id="leaders">
<polyline class="ld" points="160,297.5 169.75,297.5 275,188.75"/>
<polyline class="ld" points="602.5,29 680,29"/>
<polyline class="ld" points="371,185.5 380.5,185.5 418.75,152.5"/>
<polyline class="ld" points="392.5,235.5 401.5,235.5 466,186"/>
<polyline class="ld" points="425,283 435,283 478.6,217.6"/>
<polyline class="ld" points="126,512.3 135.2,512.3 132.3,444.5"/>
<polyline class="ld" points="161,533.8 170.6,533.8 163.5,451.5"/>
<polyline class="ld" points="197,521.6 206.4,521.6 196,465.5"/>
<polyline class="ld" points="129.5,678 140,678 244.75,611"/>
<polyline class="ld" points="681.8,256 745,226.8 756,226.8"/>
<polyline class="ld" points="690,371.6 768.9,369.4"/>
<polyline class="ld" points="266.5,758.2 276,758.2 313.75,704.5"/>
<polyline class="ld" points="430,710 515,772.3 522.5,772.3"/>
<polyline class="ld" points="500.5,651.5 546,688.5 556,688.5"/>
<polyline class="ld" points="425,757.5 467.5,792.5 476,792.5"/>
<polyline class="ld" points="569,158 615.5,139.8 626,139.8"/>
<polyline class="ld" points="467.5,311.5 477.5,311.5 560,277.5"/>
<polyline class="ld" points="569,198.3 629.8,186.3 641,186.3"/>
<polyline class="ld" points="677.6,304 750.5,278.8 760,278.8"/>
<polyline class="ld" points="44.8,538 13.3,675.5 36.75,675.5"/>
</g>
<g id="labels" class="t">
<text x="145.3" y="299.4">1</text>
<text x="689.4" y="27">2</text>
<text x="358" y="184.5">3</text>
<text x="380.3" y="235.3">4</text>
<text x="411" y="284">5</text>
<text x="109.7" y="509.6">6</text>
<text x="139" y="541">7</text>
<text x="181" y="528.5">8</text>
<text x="113.6" y="676.8">9</text>
<text x="770" y="232">10</text>
<text x="781" y="364">10</text>
<text x="240.6" y="760.5">10</text>
<text x="538" y="773">11</text>
<text x="572" y="687.5">12</text>
<text x="489" y="796">13</text>
<text x="639.5" y="143">14</text>
<text x="438" y="313">14</text>
<text x="660.3" y="185">15</text>
<text x="774.7" y="279">16</text>
<text x="49.5" y="681.2">17</text>
</g>
</svg>
</body></html>
